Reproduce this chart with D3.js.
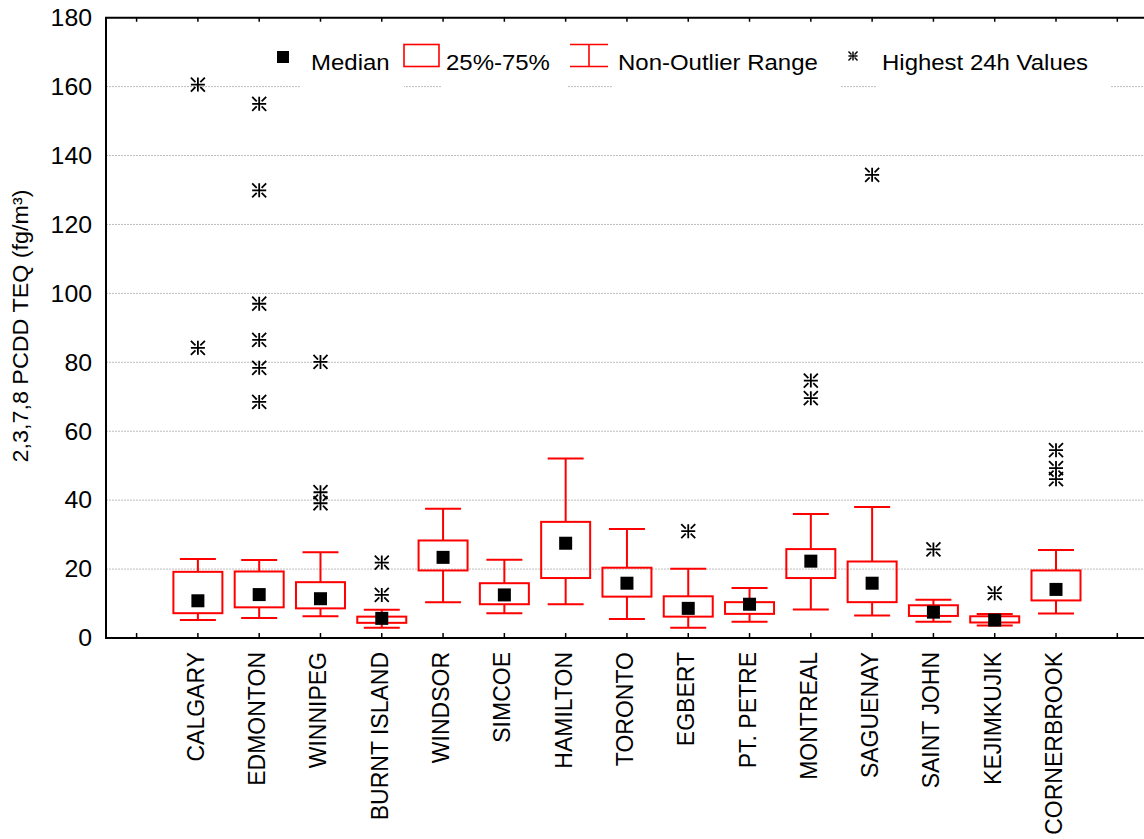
<!DOCTYPE html>
<html>
<head>
<meta charset="utf-8">
<script src="https://cdn.jsdelivr.net/npm/d3@7"></script>
<style>
  body { margin: 0; background: #fff; }
  text { font-family: Arial, "Liberation Sans", sans-serif; fill: #000; }
</style>
</head>
<body>
<div id="chart"></div>
<script>
// station names, in plot order
const stations = ['CALGARY', 'EDMONTON', 'WINNIPEG', 'BURNT ISLAND', 'WINDSOR', 'SIMCOE', 'HAMILTON',
  'TORONTO', 'EGBERT', 'PT. PETRE', 'MONTREAL', 'SAGUENAY', 'SAINT JOHN', 'KEJIMKUJIK', 'CORNERBROOK'];

// box statistics (fg/m3)
const whiskerLow  = [5.2, 5.8, 6.3, 3.0, 10.4, 7.2, 9.8, 5.5, 3.0, 4.7, 8.3, 6.5, 4.7, 3.6, 7.1];
const q25         = [7.2, 8.9, 8.6, 4.4, 19.6, 9.8, 17.4, 12.0, 6.2, 7.0, 17.4, 10.4, 6.4, 4.5, 10.9];
const medians     = [10.8, 12.6, 11.4, 5.7, 23.4, 12.5, 27.5, 15.9, 8.6, 9.8, 22.3, 15.9, 7.5, 5.2, 14.1];
const q75         = [19.2, 19.3, 16.2, 6.2, 28.3, 15.9, 33.7, 20.4, 12.1, 10.4, 25.8, 22.2, 9.5, 6.3, 19.6];
const whiskerHigh = [22.9, 22.6, 24.9, 8.2, 37.5, 22.7, 52.1, 31.6, 20.1, 14.5, 36.0, 38.0, 11.1, 7.0, 25.5];

// highest 24h values
const highest = [
  [160.6, 84.2],
  [155.0, 129.9, 97.0, 86.5, 78.4, 68.5],
  [80.1, 42.3, 39.1],
  [21.9, 12.5],
  [], [], [], [],
  [31.0],
  [],
  [74.7, 69.6],
  [134.4],
  [25.7],
  [13.0],
  [54.5, 49.3, 46.1]
];

const yTicks = [0, 20, 40, 60, 80, 100, 120, 140, 160, 180];
const legendLabels = ['Median', '25%-75%', 'Non-Outlier Range', 'Highest 24h Values'];

const width = 1144, height = 839;
const plotLeft = 106, plotTop = 17.7, plotBottom = 638, plotRight = 1148;

const svg = d3.select('#chart').append('svg')
  .attr('width', width)
  .attr('height', height);

svg.append('rect').attr('width', width).attr('height', height).attr('fill', '#fff');

// one empty slot each side of the stations
const slots = ['_a'].concat(stations, ['_b']);
const x = d3.scalePoint().domain(slots).range([136.6, 1117.3]);
const y = d3.scaleLinear().domain([0, 180]).range([plotBottom, plotTop]);

// gridlines
svg.append('g')
  .selectAll('line')
  .data(yTicks.filter(t => t > 0 && t < 180))
  .enter().append('line')
  .attr('x1', plotLeft).attr('x2', plotRight)
  .attr('y1', d => y(d)).attr('y2', d => y(d))
  .attr('stroke', '#bdbdbd')
  .attr('stroke-width', 1)
  .attr('stroke-dasharray', '2,1');

// legend (white backgrounds cut the gridline)
const legend = svg.append('g');
const legendText = [311, 446, 618, 882];
const legendBg = [[300, 404], [442, 568], [612, 840], [876, 1110]];
legendBg.forEach(b => {
  legend.append('rect').attr('x', b[0]).attr('y', 38).attr('width', b[1] - b[0]).attr('height', 54).attr('fill', '#fff');
});
legend.append('rect').attr('x', 277).attr('y', 51).attr('width', 12).attr('height', 12).attr('fill', '#000');
legend.append('rect').attr('x', 404).attr('y', 44.5).attr('width', 35).attr('height', 22)
  .attr('fill', 'none').attr('stroke', '#ff0000').attr('stroke-width', 1.6);
legend.append('path').attr('d', 'M570,44.5H608M589,44.5V66.5M570,66.5H608')
  .attr('fill', 'none').attr('stroke', '#ff0000').attr('stroke-width', 1.6);

function asterisk(g, cx, cy, r, w) {
  const a = r, b = r * 0.35;
  const d = `M${cx - a},${cy}H${cx + a}M${cx},${cy - a}V${cy + a}` +
    `M${cx - a},${cy - a}L${cx - b},${cy - b}M${cx + a},${cy - a}L${cx + b},${cy - b}` +
    `M${cx - a},${cy + a}L${cx - b},${cy + b}M${cx + a},${cy + a}L${cx + b},${cy + b}`;
  g.append('path').attr('d', d).attr('fill', 'none').attr('stroke', '#000').attr('stroke-width', w);
}
asterisk(legend, 853, 56, 4.5, 1.4);

legend.selectAll('text.lg')
  .data(legendLabels)
  .enter().append('text')
  .attr('class', 'lg')
  .attr('transform', (d, i) => `translate(${legendText[i]},70) scale(1.09,1)`)
  .attr('font-size', 22)
  .text(d => d);

// boxes
const boxW = 49, capW = 36, medS = 13;
const boxes = svg.append('g');
stations.forEach((s, i) => {
  const cx = x(s);
  const g = boxes.append('g');
  g.append('path')
    .attr('d', `M${cx - capW / 2},${y(whiskerHigh[i])}H${cx + capW / 2}M${cx},${y(whiskerHigh[i])}V${y(q75[i])}` +
      `M${cx},${y(q25[i])}V${y(whiskerLow[i])}M${cx - capW / 2},${y(whiskerLow[i])}H${cx + capW / 2}`)
    .attr('fill', 'none').attr('stroke', '#ff0000').attr('stroke-width', 2);
  g.append('rect')
    .attr('x', cx - boxW / 2).attr('width', boxW)
    .attr('y', y(q75[i])).attr('height', y(q25[i]) - y(q75[i]))
    .attr('fill', 'none').attr('stroke', '#ff0000').attr('stroke-width', 2);
  g.append('rect')
    .attr('x', cx - medS / 2).attr('y', y(medians[i]) - medS / 2)
    .attr('width', medS).attr('height', medS).attr('fill', '#000');
  highest[i].forEach(v => asterisk(g, cx, y(v), 7, 1.8));
});

// frame and inward ticks
svg.append('path')
  .attr('d', `M${plotRight},${plotTop}H${plotLeft}V${plotBottom}H${plotRight}`)
  .attr('fill', 'none').attr('stroke', '#000').attr('stroke-width', 2);
svg.append('g').selectAll('path')
  .data(slots)
  .enter().append('path')
  .attr('d', d => `M${x(d)},${plotBottom}V${plotBottom - 5}M${x(d)},${plotTop}V${plotTop + 4}`)
  .attr('stroke', '#000').attr('stroke-width', 1.5);

// y tick labels
svg.append('g').selectAll('text')
  .data(yTicks)
  .enter().append('text')
  .attr('transform', d => `translate(92,${y(d)}) scale(1.08,1)`)
  .attr('dy', '0.36em')
  .attr('text-anchor', 'end')
  .attr('font-size', 23)
  .text(d => d);

// x labels
svg.append('g').selectAll('text')
  .data(stations)
  .enter().append('text')
  .attr('transform', d => `translate(${x(d) + 6},652) rotate(-90)`)
  .attr('text-anchor', 'end')
  .attr('font-size', 23)
  .text(d => d);

// y title
svg.append('text')
  .attr('transform', 'translate(28,326) rotate(-90) scale(1.06,1)')
  .attr('text-anchor', 'middle')
  .attr('font-size', 22)
  .text('2,3,7,8 PCDD TEQ (fg/m³)');
</script>
</body>
</html>
